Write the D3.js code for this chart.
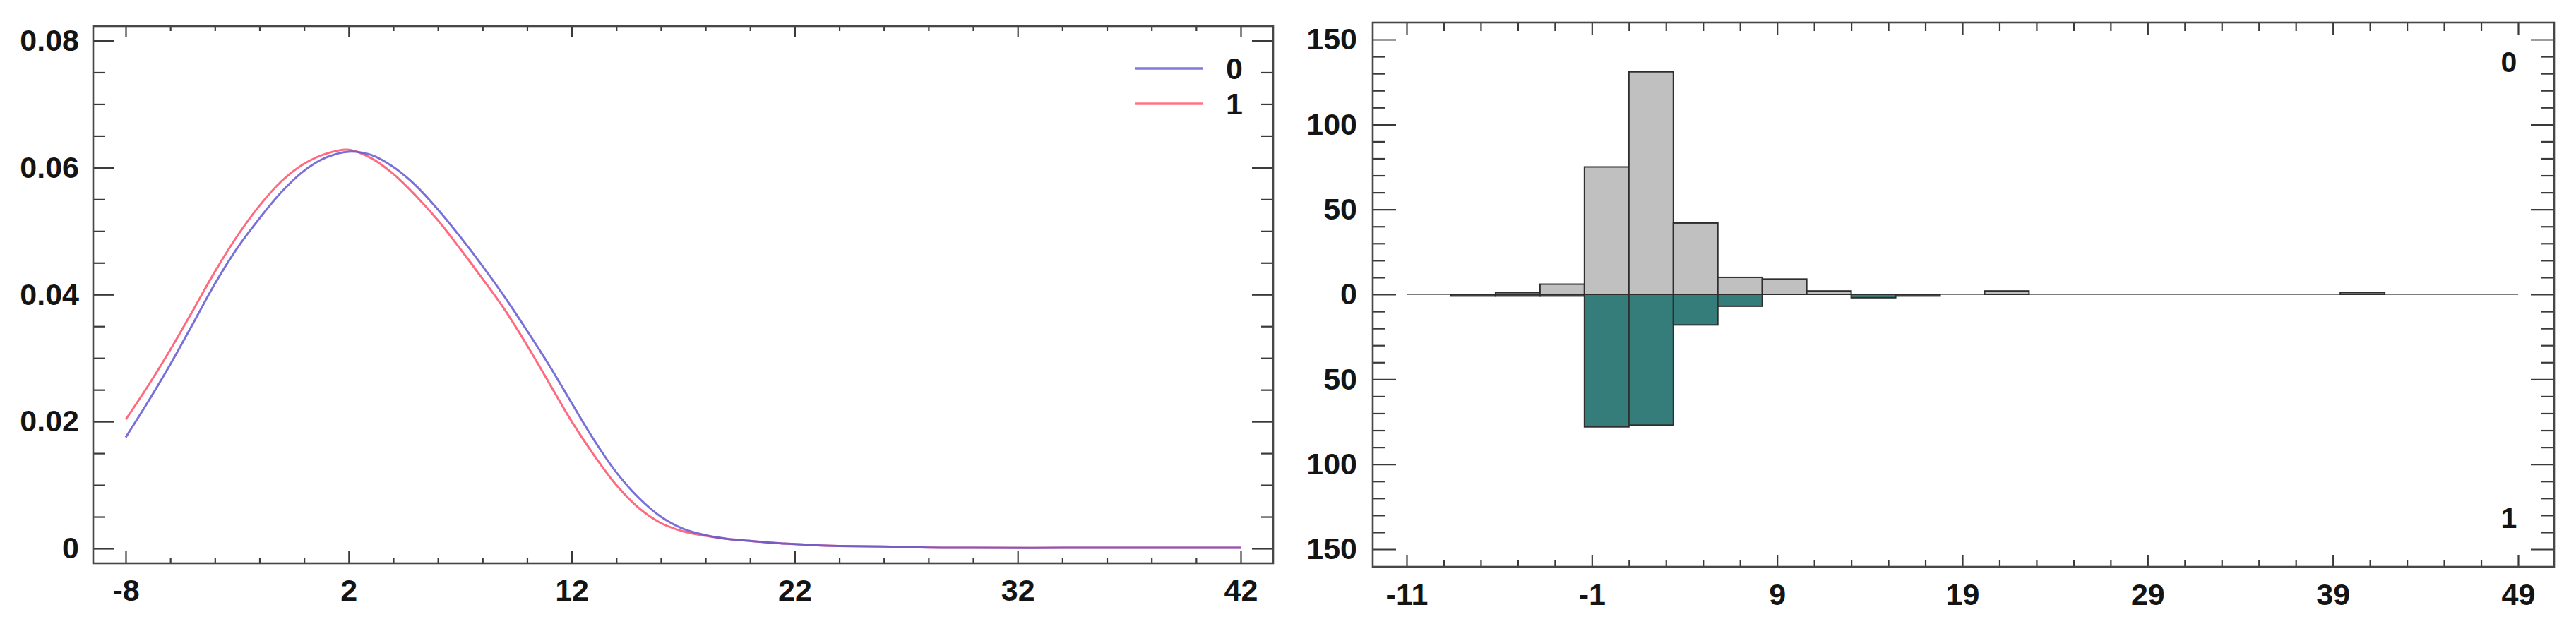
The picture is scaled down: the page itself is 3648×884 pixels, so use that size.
<!DOCTYPE html>
<html>
<head>
<meta charset="utf-8">
<script src="https://cdn.jsdelivr.net/npm/d3@7"></script>
<style>
  html, body { margin: 0; padding: 0; background: #ffffff; }
  svg { display: block; }
  text { font-family: "Liberation Sans", Arial, sans-serif; font-weight: bold; fill: #141414; }
</style>
</head>
<body>
<svg id="chart" width="3648" height="884"></svg>
<script>
// ---------------- DATA ----------------
// Left panel: density curves for groups "0" and "1"
const densityX = [-8,-7,-6,-5,-4,-3,-2,-1,0,1,2,3,4,5,6,7,8,9,10,11,12,13,14,15,16,17,18,19,20,21,22,23,24,26,28,30,34,38,42];
const density0 = [0.0175,0.0231,0.0290,0.0353,0.0417,0.0473,0.0520,0.0562,0.0595,0.0616,0.0625,0.0620,0.0601,0.0572,0.0534,0.0491,0.0445,0.0396,0.0343,0.0288,0.0229,0.0171,0.0120,0.0080,0.0050,0.0031,0.0021,0.0015,0.0012,0.0009,0.0007,0.0005,0.0004,0.0003,0.00015,0.0001,0.0001,0.0001,0.0001];
const density1 = [0.0203,0.0256,0.0313,0.0374,0.0436,0.0492,0.0540,0.0579,0.0606,0.0622,0.0628,0.0615,0.0590,0.0556,0.0517,0.0472,0.0425,0.0376,0.0320,0.0260,0.0200,0.0147,0.0100,0.0064,0.0040,0.0027,0.0020,0.0015,0.0012,0.0009,0.0007,0.0005,0.0004,0.0003,0.00015,0.0001,0.0001,0.0001,0.0001];
const seriesNames = ["0", "1"];

const leftXTicks = [-8, 2, 12, 22, 32, 42];
const leftXTickLabels = ["-8", "2", "12", "22", "32", "42"];
const leftYTicks = [0, 0.02, 0.04, 0.06, 0.08];
const leftYTickLabels = ["0", "0.02", "0.04", "0.06", "0.08"];

// Right panel: back-to-back histogram
const binLower = [-11,-8.6,-6.2,-3.8,-1.4,1.0,3.4,5.8,8.2,10.6,13.0,15.4,17.8,20.2,22.6,25.0,27.4,29.8,32.2,34.6,37.0,39.4,41.8,44.2,46.6];
const binWidth = 2.4;
const counts0 = [0,0,1,6,75,131,42,10,9,2,0,0,0,2,0,0,0,0,0,0,0,1,0,0,0];
const counts1 = [0,1,1,1,78,77,18,7,0,0,2,1,0,0,0,0,0,0,0,0,0,0,0,0,0];

const rightXTicks = [-11, -1, 9, 19, 29, 39, 49];
const rightXTickLabels = ["-11", "-1", "9", "19", "29", "39", "49"];
const rightYTicks = [-150, -100, -50, 0, 50, 100, 150];
const rightYTickLabels = ["150", "100", "50", "0", "50", "100", "150"];

// ---------------- DRAW ----------------
const svg = d3.select("#chart");
const frameColor = "#474747";
const tickColor = "#3a3a3a";
const fontSize = 43;

function styleAxis(g) {
  g.select(".domain").remove();
  g.selectAll(".tick line").attr("stroke", tickColor).attr("stroke-width", 2.2);
  g.selectAll(".tick text").style("font-size", fontSize + "px").attr("fill", "#141414");
}

// ===== LEFT PANEL =====
const LF = { x0: 132, x1: 1803, y0: 37, y1: 798 };
const xL = d3.scaleLinear().domain([-8, 42]).range([178, 1757]);
const yL = d3.scaleLinear().domain([0, 0.08]).range([777, 57.5]);

const leftXMinor = d3.range(-8, 42.001, 2).filter(v => !leftXTicks.includes(v));
const leftYMinor = d3.range(0, 0.08001, 0.005).map(v => +v.toFixed(3)).filter(v => !leftYTicks.includes(v));

const gL = svg.append("g");

gL.append("g").attr("transform", `translate(0,${LF.y1})`)
  .call(d3.axisBottom(xL).tickValues(leftXTicks).tickSize(-17).tickPadding(22)
    .tickFormat((d, i) => leftXTickLabels[i]))
  .call(styleAxis);
gL.append("g").attr("transform", `translate(0,${LF.y1})`)
  .call(d3.axisBottom(xL).tickValues(leftXMinor).tickSize(-8).tickFormat(""))
  .call(styleAxis);
gL.append("g").attr("transform", `translate(0,${LF.y0})`)
  .call(d3.axisTop(xL).tickValues(leftXTicks).tickSize(-15).tickFormat(""))
  .call(styleAxis);
gL.append("g").attr("transform", `translate(0,${LF.y0})`)
  .call(d3.axisTop(xL).tickValues(leftXMinor).tickSize(-7).tickFormat(""))
  .call(styleAxis);
gL.append("g").attr("transform", `translate(${LF.x0},0)`)
  .call(d3.axisLeft(yL).tickValues(leftYTicks).tickSize(-30).tickPadding(20)
    .tickFormat((d, i) => leftYTickLabels[i]))
  .call(styleAxis);
gL.append("g").attr("transform", `translate(${LF.x0},0)`)
  .call(d3.axisLeft(yL).tickValues(leftYMinor).tickSize(-17).tickFormat(""))
  .call(styleAxis);
gL.append("g").attr("transform", `translate(${LF.x1},0)`)
  .call(d3.axisRight(yL).tickValues(leftYTicks).tickSize(-30).tickFormat(""))
  .call(styleAxis);
gL.append("g").attr("transform", `translate(${LF.x1},0)`)
  .call(d3.axisRight(yL).tickValues(leftYMinor).tickSize(-17).tickFormat(""))
  .call(styleAxis);

// curves
const curveColors = ["#6258d2", "#ff5068"];
const lineGen = d3.line().x(d => xL(d.x)).y(d => yL(d.y)).curve(d3.curveCatmullRom.alpha(0.5));
const curves = [density1, density0];
const curveCol = [curveColors[1], curveColors[0]];
curves.forEach((arr, k) => {
  const pts = densityX.map((x, i) => ({ x: x, y: arr[i] }));
  gL.append("path").datum(pts)
    .attr("d", lineGen)
    .attr("fill", "none")
    .attr("stroke", curveCol[k])
    .attr("stroke-width", 3)
    .attr("stroke-opacity", 0.85)
    .attr("stroke-linejoin", "round");
});

// legend
const legY = [97, 147];
seriesNames.forEach((name, i) => {
  gL.append("line")
    .attr("x1", 1608).attr("x2", 1703)
    .attr("y1", legY[i]).attr("y2", legY[i])
    .attr("stroke", curveColors[i]).attr("stroke-width", 3.5).attr("stroke-opacity", 0.8);
  gL.append("text")
    .attr("x", 1748).attr("y", legY[i]).attr("dy", "0.36em")
    .attr("text-anchor", "middle")
    .style("font-size", fontSize + "px")
    .text(name);
});

gL.append("rect")
  .attr("x", LF.x0).attr("y", LF.y0)
  .attr("width", LF.x1 - LF.x0).attr("height", LF.y1 - LF.y0)
  .attr("fill", "none").attr("stroke", frameColor).attr("stroke-width", 2.6);

// ===== RIGHT PANEL =====
const RF = { x0: 1944, x1: 3617, y0: 32, y1: 803 };
const xR = d3.scaleLinear().domain([-11, 49]).range([1992, 3566]);
const yR = d3.scaleLinear().domain([-150, 150]).range([778, 56]);

const rightXMinor = d3.range(-11, 49.001, 2).filter(v => !rightXTicks.includes(v));
const rightYMinor = d3.range(-150, 150.001, 10).filter(v => !rightYTicks.includes(v));

const gR = svg.append("g");

gR.append("g").attr("transform", `translate(0,${RF.y1})`)
  .call(d3.axisBottom(xR).tickValues(rightXTicks).tickSize(-17).tickPadding(23)
    .tickFormat((d, i) => rightXTickLabels[i]))
  .call(styleAxis);
gR.append("g").attr("transform", `translate(0,${RF.y1})`)
  .call(d3.axisBottom(xR).tickValues(rightXMinor).tickSize(-10).tickFormat(""))
  .call(styleAxis);
gR.append("g").attr("transform", `translate(0,${RF.y0})`)
  .call(d3.axisTop(xR).tickValues(rightXTicks).tickSize(-18).tickFormat(""))
  .call(styleAxis);
gR.append("g").attr("transform", `translate(0,${RF.y0})`)
  .call(d3.axisTop(xR).tickValues(rightXMinor).tickSize(-12).tickFormat(""))
  .call(styleAxis);
gR.append("g").attr("transform", `translate(${RF.x0},0)`)
  .call(d3.axisLeft(yR).tickValues(rightYTicks).tickSize(-33).tickPadding(22)
    .tickFormat((d, i) => rightYTickLabels[i]))
  .call(styleAxis);
gR.append("g").attr("transform", `translate(${RF.x0},0)`)
  .call(d3.axisLeft(yR).tickValues(rightYMinor).tickSize(-18).tickFormat(""))
  .call(styleAxis);
gR.append("g").attr("transform", `translate(${RF.x1},0)`)
  .call(d3.axisRight(yR).tickValues(rightYTicks).tickSize(-33).tickFormat(""))
  .call(styleAxis);
gR.append("g").attr("transform", `translate(${RF.x1},0)`)
  .call(d3.axisRight(yR).tickValues(rightYMinor).tickSize(-18).tickFormat(""))
  .call(styleAxis);

gR.append("line")
  .attr("x1", xR(-11)).attr("x2", xR(49))
  .attr("y1", yR(0)).attr("y2", yR(0))
  .attr("stroke", "#7d7d7d").attr("stroke-width", 2.2);

const barStroke = "#2e2e2e";
binLower.forEach((lo, i) => {
  const xa = xR(lo), xb = xR(lo + binWidth);
  if (counts0[i] > 0) {
    gR.append("rect")
      .attr("x", xa).attr("y", yR(counts0[i]))
      .attr("width", xb - xa).attr("height", yR(0) - yR(counts0[i]))
      .attr("fill", "#c0c0c0").attr("stroke", barStroke).attr("stroke-width", 2);
  }
  if (counts1[i] > 0) {
    gR.append("rect")
      .attr("x", xa).attr("y", yR(0))
      .attr("width", xb - xa).attr("height", yR(-counts1[i]) - yR(0))
      .attr("fill", "#347d7a").attr("stroke", barStroke).attr("stroke-width", 2);
  }
});

gR.append("text").attr("x", 3553).attr("y", 87).attr("dy", "0.36em")
  .attr("text-anchor", "middle").style("font-size", "41px").text(seriesNames[0]);
gR.append("text").attr("x", 3553).attr("y", 733).attr("dy", "0.36em")
  .attr("text-anchor", "middle").style("font-size", "41px").text(seriesNames[1]);

gR.append("rect")
  .attr("x", RF.x0).attr("y", RF.y0)
  .attr("width", RF.x1 - RF.x0).attr("height", RF.y1 - RF.y0)
  .attr("fill", "none").attr("stroke", frameColor).attr("stroke-width", 2.6);
</script>
</body>
</html>
